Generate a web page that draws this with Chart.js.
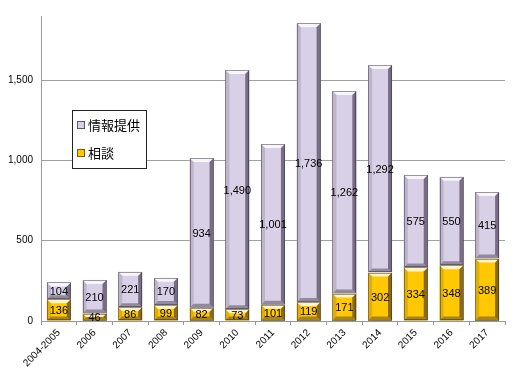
<!DOCTYPE html>
<html>
<head>
<meta charset="utf-8">
<script src="https://cdn.jsdelivr.net/npm/chart.js@4"></script>
<style>
  html, body { margin: 0; padding: 0; background: #fff; }
  #wrap { width: 517px; height: 373px; }
</style>
</head>
<body>
<div id="wrap"><canvas id="chart"></canvas></div>
<script>
// data
const years = ['2004-2005', '2006', '2007', '2008', '2009', '2010', '2011', '2012', '2013', '2014', '2015', '2016', '2017'];
const consult = [136, 46, 86, 99, 82, 73, 101, 119, 171, 302, 334, 348, 389];      // 相談
const infoProvided = [104, 210, 221, 170, 934, 1490, 1001, 1736, 1262, 1292, 575, 550, 415]; // 情報提供
const yTicks = [0, 500, 1000, 1500];
const yMax = 1900;

const FONT = '"Liberation Sans", "Noto Sans CJK JP", sans-serif';

// bevel look for the bars
const bevelPlugin = {
  id: 'bevel',
  afterDatasetDraw(chart, args) {
    const ctx = chart.ctx;
    args.meta.data.forEach(el => {
      const l = el.x - el.width / 2, r = el.x + el.width / 2;
      const t = Math.min(el.y, el.base), b = Math.max(el.y, el.base);
      const s = Math.min(4, (b - t) / 2);
      ctx.save();
      // top face
      ctx.fillStyle = 'rgba(255,255,255,0.8)';
      ctx.beginPath();
      ctx.moveTo(l, t); ctx.lineTo(r, t); ctx.lineTo(r - s, t + s); ctx.lineTo(l + s, t + s); ctx.closePath();
      ctx.fill();
      // right face
      ctx.fillStyle = 'rgba(40,30,50,0.55)';
      ctx.beginPath();
      ctx.moveTo(r, t); ctx.lineTo(r, b); ctx.lineTo(r - s, b - s); ctx.lineTo(r - s, t + s); ctx.closePath();
      ctx.fill();
      // left face
      ctx.fillStyle = 'rgba(40,30,50,0.15)';
      ctx.beginPath();
      ctx.moveTo(l, t); ctx.lineTo(l + s, t + s); ctx.lineTo(l + s, b - s); ctx.lineTo(l, b); ctx.closePath();
      ctx.fill();
      // bottom face
      ctx.fillStyle = 'rgba(40,30,50,0.4)';
      ctx.beginPath();
      ctx.moveTo(l, b); ctx.lineTo(l + s, b - s); ctx.lineTo(r - s, b - s); ctx.lineTo(r, b); ctx.closePath();
      ctx.fill();
      // thin outline
      ctx.strokeStyle = 'rgba(40,30,50,0.45)';
      ctx.lineWidth = 1;
      ctx.strokeRect(Math.round(l) + 0.5, Math.round(t) + 0.5, Math.round(r - l) - 1, Math.round(b - t) - 1);
      ctx.restore();
    });
  }
};

// value labels in the middle of each segment
const labelPlugin = {
  id: 'segLabels',
  afterDatasetsDraw(chart) {
    const ctx = chart.ctx;
    ctx.save();
    ctx.font = '11px ' + FONT;
    ctx.fillStyle = '#000';
    ctx.textAlign = 'center';
    ctx.textBaseline = 'middle';
    chart.data.datasets.forEach((ds, i) => {
      chart.getDatasetMeta(i).data.forEach((el, j) => {
        ctx.fillText(ds.data[j].toLocaleString('en-US'), el.x, (el.y + el.base) / 2 + 1);
      });
    });
    ctx.restore();
  }
};

// boxed legend sitting inside the plot
const boxLegend = {
  id: 'boxLegend',
  afterDraw(chart) {
    const ctx = chart.ctx;
    const x0 = 72, y0 = 110, w = 74, h = 58;
    ctx.save();
    ctx.fillStyle = '#fff';
    ctx.fillRect(x0, y0, w, h);
    ctx.strokeStyle = '#222';
    ctx.lineWidth = 1;
    ctx.strokeRect(x0 + 0.5, y0 + 0.5, w, h);
    const items = [chart.data.datasets[1], chart.data.datasets[0]];
    ctx.font = '13px ' + FONT;
    ctx.textBaseline = 'middle';
    items.forEach((ds, i) => {
      const cy = y0 + 15 + i * 28;
      ctx.fillStyle = ds.borderColor;
      ctx.fillRect(x0 + 5, cy - 4, 8, 8);
      ctx.fillStyle = ds.backgroundColor;
      ctx.fillRect(x0 + 6, cy - 3, 6, 6);
      ctx.fillStyle = '#000';
      ctx.fillText(ds.label, x0 + 16, cy + 1);
    });
    ctx.restore();
  }
};

new Chart(document.getElementById('chart'), {
  type: 'bar',
  data: {
    labels: years,
    datasets: [
      {
        label: '相談',
        data: consult,
        backgroundColor: '#FFC800',
        borderColor: '#7A5E00',
        borderWidth: 0
      },
      {
        label: '情報提供',
        data: infoProvided,
        backgroundColor: '#D8D0E6',
        borderColor: '#5E566E',
        borderWidth: 0
      }
    ]
  },
  options: {
    responsive: true,
    maintainAspectRatio: false,
    animation: false,
    layout: { padding: { top: 16, right: 12, left: 0, bottom: 0 } },
    datasets: { bar: { categoryPercentage: 1, barPercentage: 0.67 } },
    plugins: {
      legend: { display: false },
      tooltip: { enabled: false }
    },
    scales: {
      x: {
        stacked: true,
        afterFit(scale) { scale.height = 52; },
        grid: {
          offset: true,
          drawOnChartArea: false,
          drawTicks: true,
          tickLength: 4,
          color: '#999'
        },
        border: { color: '#999' },
        ticks: {
          minRotation: 45,
          maxRotation: 45,
          autoSkip: false,
          color: '#000',
          font: { family: FONT, size: 10 },
          padding: 2
        }
      },
      y: {
        stacked: true,
        min: 0,
        max: yMax,
        afterFit(scale) { scale.width = 41; },
        afterBuildTicks(scale) {
          scale.ticks = yTicks.concat([yMax]).map(v => ({ value: v }));
        },
        grid: {
          drawTicks: false,
          color: ctx => (ctx.tick && yTicks.includes(ctx.tick.value) && ctx.tick.value !== 0) ? '#a0a0a0' : 'rgba(0,0,0,0)'
        },
        border: { color: '#999' },
        ticks: {
          padding: 8,
          color: '#000',
          font: { family: FONT, size: 10 },
          callback: v => yTicks.includes(v) ? v.toLocaleString('en-US') : ''
        }
      }
    }
  },
  plugins: [bevelPlugin, labelPlugin, boxLegend]
});
</script>
</body>
</html>
